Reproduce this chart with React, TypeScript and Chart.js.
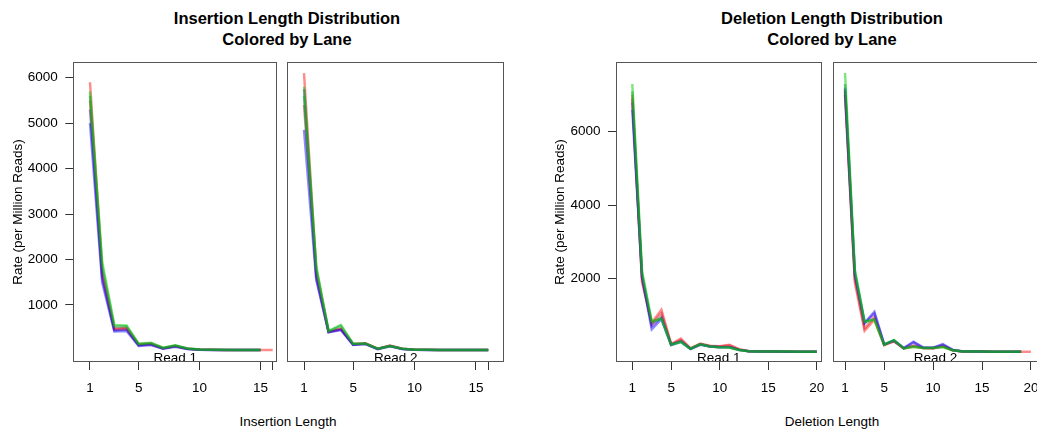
import React, { useEffect, useRef } from "react";
import { Chart, registerables } from "chart.js";

Chart.register(...registerables);

// ---------------- data ----------------
const insertionLengthTicks = [1, 5, 10, 15, 16];
const insertionLengthTickLabels = ["1", "5", "10", "15", ""];
const deletionLengthTicks = [1, 5, 10, 15, 20];
const deletionLengthTickLabels = ["1", "5", "10", "15", "20"];
const insertionRateTicks = [1000, 2000, 3000, 4000, 5000, 6000];
const deletionRateTicks = [2000, 4000, 6000];

const laneNames = ["Lane 1", "Lane 2", "Lane 3", "Lane 4", "Lane 5", "Lane 6"];

// Insertion, Read 1 — rate (per million reads) at insertion length 1, 2, 3, ...
const insR1Lane1 = [5700, 1950, 560, 550, 150, 170, 60, 115, 45, 22, 16, 13, 11, 10, 10];
const insR1Lane2 = [5600, 1850, 520, 530, 140, 160, 55, 110, 42, 20, 15, 12, 10, 10, 10];
const insR1Lane3 = [5000, 1500, 420, 430, 100, 120, 40, 80, 30, 15, 12, 10, 9, 8, 8];
const insR1Lane4 = [5300, 1600, 440, 460, 110, 130, 45, 90, 32, 16, 12, 10, 9, 8, 8];
const insR1Lane5 = [5900, 1750, 480, 500, 130, 150, 50, 100, 40, 20, 15, 12, 10, 10, 10, 10];
const insR1Lane6 = [5500, 1650, 460, 480, 120, 140, 45, 95, 35, 18, 14, 11, 10, 9, 9];

// Insertion, Read 2
const insR2Lane1 = [5800, 1850, 430, 560, 150, 155, 40, 100, 40, 18, 14, 12, 10, 10, 10, 10];
const insR2Lane2 = [5600, 1800, 420, 540, 145, 150, 38, 98, 38, 17, 13, 11, 10, 9, 9, 9];
const insR2Lane3 = [4850, 1550, 400, 450, 120, 140, 30, 90, 30, 15, 12, 10, 9, 8, 8, 8];
const insR2Lane4 = [5750, 1600, 410, 460, 125, 145, 32, 95, 32, 16, 12, 10, 9, 8, 8, 8];
const insR2Lane5 = [6100, 1750, 420, 480, 140, 160, 40, 110, 40, 18, 14, 12, 10, 10, 10, 10];
const insR2Lane6 = [5400, 1650, 400, 470, 130, 150, 35, 100, 35, 17, 13, 11, 10, 9, 9, 9];

// Deletion, Read 1
const delR1Lane1 = [7300, 2200, 850, 900, 200, 270, 90, 210, 150, 130, 120, 55, 22, 18, 15, 14, 13, 12, 12, 12];
const delR1Lane2 = [7100, 2150, 800, 920, 205, 290, 92, 215, 155, 135, 130, 58, 22, 18, 15, 14, 13, 12, 12, 12];
const delR1Lane3 = [6600, 2050, 620, 900, 190, 280, 80, 200, 150, 130, 130, 60, 20, 17, 14, 13, 12, 11, 11, 11];
const delR1Lane4 = [6800, 2100, 700, 950, 200, 300, 90, 210, 150, 140, 140, 60, 20, 17, 14, 13, 12, 11, 11, 11];
const delR1Lane5 = [7000, 1900, 800, 1150, 220, 370, 100, 230, 170, 160, 200, 80, 25, 20, 18, 15, 15, 12, 12, 12];
const delR1Lane6 = [6900, 2000, 760, 1050, 210, 330, 95, 220, 160, 150, 180, 70, 24, 19, 16, 15, 14, 12, 12, 12];

// Deletion, Read 2
const delR2Lane1 = [7600, 2250, 830, 870, 200, 330, 100, 140, 110, 110, 130, 50, 18, 15, 13, 12, 11, 10, 10];
const delR2Lane2 = [7300, 2200, 820, 900, 205, 320, 105, 160, 112, 112, 150, 52, 18, 15, 13, 12, 11, 10, 10];
const delR2Lane3 = [7200, 2150, 800, 1100, 210, 320, 110, 280, 120, 120, 220, 60, 20, 16, 14, 12, 11, 10, 10];
const delR2Lane4 = [7150, 2100, 780, 1050, 205, 310, 105, 260, 115, 115, 200, 55, 19, 16, 14, 12, 11, 10, 10];
const delR2Lane5 = [7100, 1900, 580, 880, 190, 290, 100, 150, 110, 100, 150, 50, 18, 15, 13, 12, 11, 10, 10, 10];
const delR2Lane6 = [7000, 2000, 650, 950, 200, 300, 100, 180, 110, 110, 170, 50, 18, 15, 13, 12, 11, 10, 10];

// ---------------- styles ----------------
const laneColors = [
  "rgba(0,205,0,0.5)",
  "rgba(20,140,70,0.5)",
  "rgba(0,0,255,0.45)",
  "rgba(90,0,190,0.45)",
  "rgba(255,0,0,0.45)",
  "rgba(190,20,20,0.45)",
];

const FONT = "'Liberation Sans', Arial, Helvetica, sans-serif";
const TICK_FONT_SIZE = 13.5;

type PanelSpec = {
  lanes: number[][];
  strip: string;
  xMin: number;
  xMax: number;
  xTicks: number[];
  xTickLabels: string[];
  yMin: number;
  yMax: number;
  yTicks: number[] | null;
  yTitle: string | null;
  canvasLeft: number;
  canvasTop: number;
  canvasWidth: number;
  canvasHeight: number;
  padLeft: number;
  padRight: number;
  padTop: number;
  yAxisWidth: number;
  xAxisHeight: number;
  yTitlePad: number;
};

const boxPlugin = {
  id: "panelBox",
  afterDatasetsDraw(chart: any, _args: any, opts: any) {
    const { ctx, chartArea } = chart;
    ctx.save();
    ctx.font = `${TICK_FONT_SIZE}px ${FONT}`;
    ctx.fillStyle = "#000";
    ctx.textAlign = "center";
    ctx.textBaseline = "alphabetic";
    ctx.fillText(opts.strip || "", (chartArea.left + chartArea.right) / 2, chartArea.bottom - 0.5);
    ctx.strokeStyle = "#555";
    ctx.lineWidth = 1;
    const l = Math.round(chartArea.left) + 0.5;
    const t = Math.round(chartArea.top) + 0.5;
    const r = Math.round(chartArea.right) - 0.5;
    const b = Math.round(chartArea.bottom) - 0.5;
    ctx.strokeRect(l, t, r - l, b - t);
    ctx.restore();
  },
};

function zeroPadding(s: any) {
  s.paddingTop = 0;
  s.paddingBottom = 0;
  s.paddingLeft = 0;
  s.paddingRight = 0;
}

function makeConfig(p: PanelSpec): any {
  return {
    type: "line",
    data: {
      datasets: p.lanes.map((vals, i) => ({
        label: laneNames[i],
        data: vals.map((v, k) => ({ x: k + 1, y: v })),
        borderColor: laneColors[i],
        backgroundColor: laneColors[i],
        borderWidth: 2.5,
        pointRadius: 0,
        tension: 0,
        fill: false,
      })),
    },
    options: {
      animation: false,
      responsive: false,
      maintainAspectRatio: false,
      events: [],
      layout: { padding: { left: p.padLeft, right: p.padRight, top: p.padTop, bottom: 0 } },
      plugins: {
        legend: { display: false },
        tooltip: { enabled: false },
        title: { display: false },
        panelBox: { strip: p.strip },
      },
      scales: {
        x: {
          type: "linear",
          min: p.xMin,
          max: p.xMax,
          afterBuildTicks: (s: any) => {
            s.ticks = p.xTicks.map((v) => ({ value: v }));
          },
          afterFit: (s: any) => {
            s.height = p.xAxisHeight;
            zeroPadding(s);
          },
          grid: { drawOnChartArea: false, drawTicks: true, tickLength: 8, color: "#333", lineWidth: 1 },
          border: { display: false },
          ticks: {
            autoSkip: false,
            maxRotation: 0,
            minRotation: 0,
            padding: 10,
            color: "#000",
            font: { family: FONT, size: TICK_FONT_SIZE },
            callback: (_v: any, idx: number) => p.xTickLabels[idx],
          },
        },
        y: {
          type: "linear",
          display: p.yTicks !== null,
          min: p.yMin,
          max: p.yMax,
          afterBuildTicks: (s: any) => {
            s.ticks = (p.yTicks || []).map((v) => ({ value: v }));
          },
          afterFit: (s: any) => {
            s.width = p.yAxisWidth;
            zeroPadding(s);
          },
          grid: { drawOnChartArea: false, drawTicks: true, tickLength: 8, color: "#333", lineWidth: 1 },
          border: { display: false },
          ticks: {
            autoSkip: false,
            padding: 7.5,
            color: "#000",
            font: { family: FONT, size: TICK_FONT_SIZE },
            callback: (v: any) => String(v),
          },
          title: {
            display: !!p.yTitle,
            text: p.yTitle || "",
            color: "#000",
            font: { family: FONT, size: 13.5 },
            padding: { top: p.yTitlePad, bottom: 0 },
          },
        },
      },
    },
    plugins: [boxPlugin],
  };
}

const panels: PanelSpec[] = [
  {
    lanes: [insR1Lane1, insR1Lane2, insR1Lane3, insR1Lane4, insR1Lane5, insR1Lane6],
    strip: "Read 1",
    xMin: -0.37,
    xMax: 16.38,
    xTicks: insertionLengthTicks,
    xTickLabels: insertionLengthTickLabels,
    yMin: -254,
    yMax: 6345,
    yTicks: insertionRateTicks,
    yTitle: "Rate (per Million Reads)",
    canvasLeft: 0,
    canvasTop: 50,
    canvasWidth: 300,
    canvasHeight: 360,
    padLeft: 0,
    padRight: 22.7,
    padTop: 12,
    yAxisWidth: 73.3,
    xAxisHeight: 48,
    yTitlePad: 10.2,
  },
  {
    lanes: [insR2Lane1, insR2Lane2, insR2Lane3, insR2Lane4, insR2Lane5, insR2Lane6],
    strip: "Read 2",
    xMin: -0.36,
    xMax: 17.28,
    xTicks: insertionLengthTicks,
    xTickLabels: insertionLengthTickLabels,
    yMin: -254,
    yMax: 6345,
    yTicks: null,
    yTitle: null,
    canvasLeft: 272,
    canvasTop: 50,
    canvasWidth: 250,
    canvasHeight: 360,
    padLeft: 15.3,
    padRight: 18,
    padTop: 12,
    yAxisWidth: 0,
    xAxisHeight: 48,
    yTitlePad: 0,
  },
  {
    lanes: [delR1Lane1, delR1Lane2, delR1Lane3, delR1Lane4, delR1Lane5, delR1Lane6],
    strip: "Read 1",
    xMin: -0.68,
    xMax: 20.51,
    xTicks: deletionLengthTicks,
    xTickLabels: deletionLengthTickLabels,
    yMin: -270,
    yMax: 7900,
    yTicks: deletionRateTicks,
    yTitle: "Rate (per Million Reads)",
    canvasLeft: 530,
    canvasTop: 50,
    canvasWidth: 300,
    canvasHeight: 360,
    padLeft: 0,
    padRight: 8.3,
    padTop: 12,
    yAxisWidth: 86,
    xAxisHeight: 48,
    yTitlePad: 21.9,
  },
  {
    lanes: [delR2Lane1, delR2Lane2, delR2Lane3, delR2Lane4, delR2Lane5, delR2Lane6],
    strip: "Read 2",
    xMin: -0.26,
    xMax: 20.76,
    xTicks: deletionLengthTicks,
    xTickLabels: deletionLengthTickLabels,
    yMin: -270,
    yMax: 7900,
    yTicks: null,
    yTitle: null,
    canvasLeft: 818,
    canvasTop: 50,
    canvasWidth: 240,
    canvasHeight: 360,
    padLeft: 14.7,
    padRight: 19.6,
    padTop: 12,
    yAxisWidth: 0,
    xAxisHeight: 48,
    yTitlePad: 0,
  },
];

const titleStyle: React.CSSProperties = {
  position: "absolute",
  width: 440,
  textAlign: "center",
  fontFamily: FONT,
  fontWeight: "bold",
  fontSize: 16.5,
  lineHeight: "21px",
  color: "#000",
  whiteSpace: "nowrap",
};

const axisLabelStyle: React.CSSProperties = {
  position: "absolute",
  width: 300,
  textAlign: "center",
  fontFamily: FONT,
  fontSize: 13.5,
  lineHeight: "16px",
  color: "#000",
  whiteSpace: "nowrap",
};

export default function App() {
  const refs = [useRef<HTMLCanvasElement>(null), useRef<HTMLCanvasElement>(null), useRef<HTMLCanvasElement>(null), useRef<HTMLCanvasElement>(null)];

  useEffect(() => {
    const charts: Chart[] = [];
    panels.forEach((p, i) => {
      const c = refs[i].current;
      if (c) charts.push(new Chart(c, makeConfig(p)));
    });
    return () => charts.forEach((c) => c.destroy());
  }, []);

  return (
    <div
      style={{
        position: "absolute",
        left: 0,
        top: 0,
        width: 1037,
        height: 431,
        overflow: "hidden",
        background: "#fff",
      }}
    >
      <div style={{ ...titleStyle, left: 287 - 220, top: 8 }}>
        Insertion Length Distribution
        <br />
        Colored by Lane
      </div>
      <div style={{ ...titleStyle, left: 832 - 220, top: 8 }}>
        Deletion Length Distribution
        <br />
        Colored by Lane
      </div>
      {panels.map((p, i) => (
        <canvas
          key={i}
          ref={refs[i]}
          width={p.canvasWidth}
          height={p.canvasHeight}
          style={{
            position: "absolute",
            left: p.canvasLeft,
            top: p.canvasTop,
            width: p.canvasWidth,
            height: p.canvasHeight,
          }}
        />
      ))}
      <div style={{ ...axisLabelStyle, left: 288 - 150, top: 414 }}>Insertion Length</div>
      <div style={{ ...axisLabelStyle, left: 832 - 150, top: 414 }}>Deletion Length</div>
    </div>
  );
}
